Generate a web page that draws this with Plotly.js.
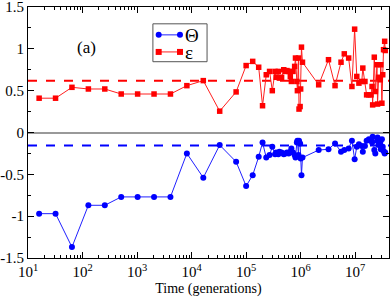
<!DOCTYPE html>
<html><head><meta charset="utf-8">
<script src="https://cdn.plot.ly/plotly-3.0.1.min.js"></script>
<style>html,body{margin:0;padding:0;background:#fff}#chart{width:390px;height:298px}</style>
</head><body><div id="chart"></div>
<script>
// Time in generations
const time = [16, 32, 64, 128, 256, 512, 1024, 2048, 4096, 8192, 16384, 32768, 65536,
  1.0e5, 1.32e5, 1.70e5, 2.0e5, 2.34e5, 2.69e5, 3.02e5, 3.39e5, 3.55e5, 3.89e5, 4.07e5, 4.47e5,
  4.9e5, 5.25e5, 5.62e5, 6.03e5, 6.46e5, 6.76e5, 7.24e5, 7.76e5, 8.04e5, 8.51e5, 8.71e5, 9.12e5,
  9.33e5, 9.77e5, 1.0e6, 1.035e6, 1.08e6, 2.14e6, 3.24e6, 4.27e6, 5.5e6, 6.31e6, 7.59e6, 8.71e6,
  9.77e6, 1.07e7, 1.17e7, 1.32e7, 1.38e7, 1.51e7, 1.62e7, 1.78e7, 1.95e7, 2.04e7, 2.09e7, 2.24e7,
  2.34e7, 2.51e7, 2.57e7, 2.69e7, 2.88e7, 2.95e7, 3.09e7, 3.2e7, 3.31e7, 3.47e7, 3.55e7];
const theta = [-0.97, -0.97, -1.37, -0.87, -0.87, -0.77, -0.77, -0.77, -0.77, -0.25, -0.54, -0.15, -0.35,
  -0.64, -0.51, -0.29, -0.12, -0.30, -0.27, -0.17, -0.26, -0.24, -0.26, -0.23, -0.24,
  -0.26, -0.25, -0.24, -0.25, -0.23, -0.19, -0.24, -0.27, -0.30, -0.12, -0.10, -0.27,
  -0.10, -0.13, -0.31, -0.51, -0.30, -0.21, -0.20, -0.13, -0.23, -0.21, -0.19, -0.10,
  -0.32, -0.17, -0.14, -0.16, -0.23, -0.16, -0.10, -0.08, -0.09, -0.12, -0.05, -0.21,
  -0.25, -0.10, -0.06, -0.15, -0.12, -0.20, -0.08, -0.17, -0.22, -0.25, -0.24];
const eps = [0.41, 0.41, 0.54, 0.52, 0.52, 0.46, 0.46, 0.46, 0.46, 0.56, 0.62, 0.255, 0.485,
  0.80, 0.85, 0.78, 0.32, 0.69, 0.73, 0.50, 0.73, 0.66, 0.73, 0.65, 0.66,
  0.75, 0.73, 0.74, 0.73, 0.67, 0.61, 0.73, 0.79, 0.89, 0.61, 0.50, 0.89,
  0.28, 0.31, 0.52, 1.02, 0.84, 0.57, 0.87, 0.56, 0.84, 0.94, 0.89, 0.55,
  1.235, 0.67, 0.59, 0.61, 0.77, 0.61, 0.45, 0.45, 0.45, 0.55, 0.33, 0.90,
  0.49, 0.81, 0.34, 0.66, 0.63, 0.81, 0.35, 0.69, 0.99, 1.09, 0.98];
const meanTheta = -0.155;
const meanEps = 0.62;
const seriesNames = ['Θ', 'ε'];
const xTickVals = [10, 100, 1000, 1e4, 1e5, 1e6, 1e7];
const xTickText = ['10<sup>1</sup>', '10<sup>2</sup>', '10<sup>3</sup>', '10<sup>4</sup>', '10<sup>5</sup>', '10<sup>6</sup>', '10<sup>7</sup>'];
const yTickVals = [-1.5, -1, -0.5, 0, 0.5, 1, 1.5];
const yTickText = ['-1.5', '-1', '-0.5', '0', '0.5', '1', '1.5'];

const serif = 'Liberation Serif, Times New Roman, serif';
const colors = ['#0000ff', '#ff0000'];
const lineColors = ['#2020ff', '#ff2020'];
const traces = [
  {x: time, y: theta, name: seriesNames[0], mode: 'lines+markers', type: 'scatter',
   line: {color: lineColors[0], width: 1}, marker: {color: colors[0], symbol: 'circle', size: 6}},
  {x: time, y: eps, name: seriesNames[1], mode: 'lines+markers', type: 'scatter',
   line: {color: lineColors[1], width: 1}, marker: {color: colors[1], symbol: 'square', size: 5.5}}
];

// custom legend (paper coordinates)
const lg = {x0: 0.346, x1: 0.496, y0: 0.782, y1: 0.933, rows: [0.889, 0.821], lx0: 0.362, lx1: 0.421, tx: 0.432};
const shapes = [
  {type: 'line', xref: 'paper', x0: 0, x1: 1, yref: 'y', y0: meanEps, y1: meanEps,
   line: {color: colors[1], width: 2, dash: 'dash'}, layer: 'below'},
  {type: 'line', xref: 'paper', x0: 0, x1: 1, yref: 'y', y0: meanTheta, y1: meanTheta,
   line: {color: colors[0], width: 2, dash: 'dash'}, layer: 'below'},
  {type: 'rect', xref: 'paper', yref: 'paper', x0: lg.x0, x1: lg.x1, y0: lg.y0, y1: lg.y1,
   line: {color: '#555', width: 1}, fillcolor: '#fff', layer: 'above'}
];
const annotations = [
  {text: '(a)', xref: 'paper', yref: 'paper', x: 0.13, y: 0.885, showarrow: false,
   font: {family: serif, size: 17}}
];
[0, 1].forEach(i => {
  const ry = lg.rows[i];
  shapes.push({type: 'line', xref: 'paper', yref: 'paper', x0: lg.lx0, x1: lg.lx1, y0: ry, y1: ry,
    line: {color: lineColors[i], width: 1}, layer: 'above'});
  [lg.lx0, lg.lx1].forEach(cx => {
    shapes.push({type: i === 0 ? 'circle' : 'rect', xref: 'paper', yref: 'paper',
      xsizemode: 'pixel', ysizemode: 'pixel', xanchor: cx, yanchor: ry,
      x0: -3, x1: 3, y0: -3, y1: 3, line: {width: 0}, fillcolor: colors[i], layer: 'above'});
  });
  annotations.push({text: seriesNames[i], xref: 'paper', yref: 'paper', x: lg.tx, y: ry,
    xanchor: 'left', yanchor: 'middle', showarrow: false, height: 16, borderpad: 0,
    font: {family: serif, size: 19}});
});

const layout = {
  width: 390, height: 298,
  margin: {l: 28, r: 1, t: 7, b: 40},
  paper_bgcolor: '#fff', plot_bgcolor: '#fff',
  font: {family: serif, color: '#000', size: 15},
  showlegend: false,
  xaxis: {type: 'log', range: [1, 7.62], tickmode: 'array', tickvals: xTickVals, ticktext: xTickText,
    ticks: 'inside', ticklen: 6, tickcolor: '#000', showgrid: false, zeroline: false,
    showline: true, linecolor: '#000', linewidth: 1, mirror: 'ticks',
    minor: {ticks: 'inside', ticklen: 3, dtick: 'D1', tickcolor: '#000', showgrid: false},
    tickfont: {family: serif, size: 15}, ticklabeloverflow: 'allow',
    title: {text: 'Time (generations)', font: {family: serif, size: 14}, standoff: 4}},
  yaxis: {range: [-1.5, 1.5], tickmode: 'array', tickvals: yTickVals, ticktext: yTickText,
    ticks: 'inside', ticklen: 6, tickcolor: '#000', showgrid: false,
    zeroline: true, zerolinecolor: '#999', zerolinewidth: 2,
    showline: true, linecolor: '#000', linewidth: 1, mirror: 'ticks',
    minor: {ticks: 'inside', ticklen: 3, dtick: 0.25, tick0: 0, tickcolor: '#000', showgrid: false},
    tickfont: {family: serif, size: 15}, ticklabeloverflow: 'allow'},
  shapes: shapes,
  annotations: annotations
};
Plotly.newPlot('chart', traces, layout, {displayModeBar: false, staticPlot: true});
</script>
</body></html>
